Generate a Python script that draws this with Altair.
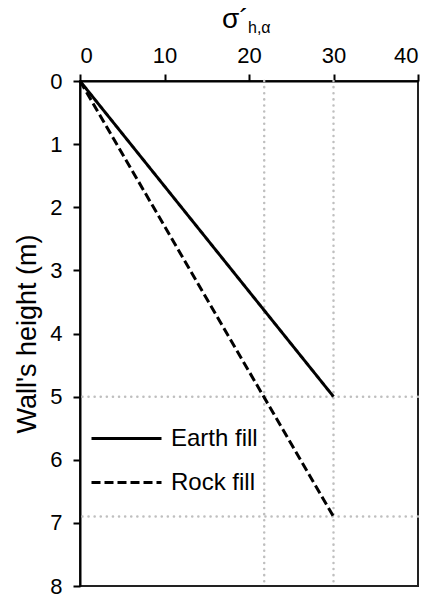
import altair as alt
import pandas as pd

# Data
series = ["Earth fill", "Earth fill", "Rock fill", "Rock fill"]
stress = [0, 30, 0, 30]
depth = [0, 5.0, 0, 6.9]
vgrid = [21.8, 30]
hgrid = [5.0, 6.9]

df = pd.DataFrame({"series": series, "stress": stress, "depth": depth})
dfv = pd.DataFrame({"x": vgrid})
dfh = pd.DataFrame({"y": hgrid})

FONT = "Liberation Sans"

xscale = alt.Scale(domain=[0, 40], nice=False, zero=False)
yscale = alt.Scale(domain=[0, 8], reverse=True, nice=False, zero=False)

grid_color = "#bfbfbf"

vrules = alt.Chart(dfv).mark_rule(color=grid_color, strokeWidth=2.5, strokeDash=[0.1, 6], strokeCap="round").encode(
    x=alt.X("x:Q", scale=xscale)
)
hrules = alt.Chart(dfh).mark_rule(color=grid_color, strokeWidth=2.5, strokeDash=[0.1, 6], strokeCap="round").encode(
    y=alt.Y("y:Q", scale=yscale)
)

lines = alt.Chart(df).mark_line(color="black", strokeWidth=3).encode(
    x=alt.X("stress:Q", scale=xscale,
            axis=alt.Axis(orient="top", values=[0, 10, 20, 30, 40], title=None, format="d",
                          grid=False, tickSize=7, tickWidth=2, domainWidth=2,
                          domainColor="black", tickColor="black",
                          labelFontSize=22, labelFont=FONT, labelColor="black",
                          labelPadding=7)),
    y=alt.Y("depth:Q", scale=yscale,
            axis=alt.Axis(values=list(range(0, 9)), title="Wall's height (m)", format="d",
                          grid=False, tickSize=7, tickWidth=2, domainWidth=2,
                          domainColor="black", tickColor="black",
                          labelFontSize=22, labelFont=FONT, labelColor="black",
                          labelPadding=11, titleFontSize=27, titleFont=FONT,
                          titleFontWeight="normal", titleColor="black", titlePadding=8)),
    strokeDash=alt.StrokeDash("series:N",
                              scale=alt.Scale(domain=["Earth fill", "Rock fill"], range=[[1, 0], [9, 4]]),
                              legend=alt.Legend(title=None, orient="none", legendX=25, legendY=336,
                                                symbolType="M-1.75,0H1.75", symbolSize=1600,
                                                symbolStrokeWidth=3, symbolStrokeColor="black",
                                                symbolFillColor="transparent",
                                                labelFontSize=24, labelFont=FONT, labelColor="black",
                                                labelOffset=23, rowPadding=10, padding=0)),
    detail="series:N",
)

title_df = pd.DataFrame({"t": ["σ´"]})
sub_df = pd.DataFrame({"t": ["h,α"]})
title_main = alt.Chart(title_df).mark_text(font=FONT, fontSize=28, align="left", baseline="alphabetic", color="black").encode(
    text="t:N", x=alt.value(142), y=alt.value(-53)
)
title_sub = alt.Chart(sub_df).mark_text(font=FONT, fontSize=16, align="left", baseline="alphabetic", color="black").encode(
    text="t:N", x=alt.value(168), y=alt.value(-48)
)

chart = alt.layer(vrules, hrules, lines, title_main, title_sub).properties(
    width=338, height=505,
    autosize=alt.AutoSizeParams(type="none"),
    padding={"left": 80, "top": 81, "right": 14, "bottom": 10},
    background="white",
).configure_view(stroke="#222222", strokeWidth=2)

chart.save("out.html", embed_options={"renderer": "svg", "actions": False})
